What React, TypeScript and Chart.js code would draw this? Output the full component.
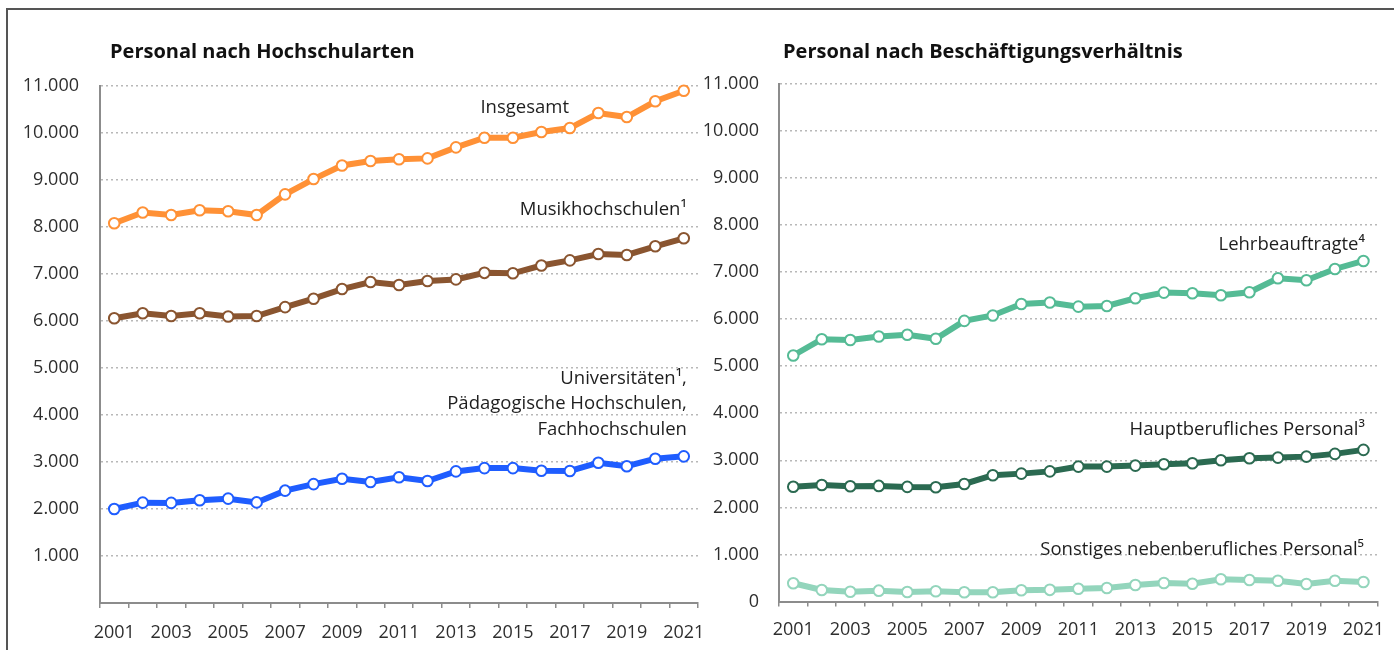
import React, { useEffect, useRef } from 'react';
import { Chart, registerables } from 'chart.js';

Chart.register(...registerables);

// ---------- data ----------
const years = [
  '2001', '2002', '2003', '2004', '2005', '2006', '2007', '2008', '2009', '2010', '2011',
  '2012', '2013', '2014', '2015', '2016', '2017', '2018', '2019', '2020', '2021',
];

const insgesamt = [8080, 8310, 8255, 8355, 8335, 8255, 8695, 9020, 9310, 9405, 9440, 9460, 9695, 9900, 9900, 10020, 10105, 10425, 10340, 10675, 10900];
const musikhochschulen = [6060, 6165, 6105, 6165, 6095, 6105, 6295, 6475, 6680, 6830, 6765, 6850, 6885, 7025, 7015, 7180, 7290, 7425, 7405, 7590, 7760];
const universitaeten = [2000, 2135, 2130, 2185, 2220, 2140, 2390, 2530, 2645, 2575, 2675, 2595, 2800, 2870, 2870, 2815, 2810, 2985, 2910, 3070, 3120];

const lehrbeauftragte = [5225, 5570, 5555, 5630, 5665, 5580, 5960, 6075, 6320, 6350, 6262, 6276, 6440, 6560, 6546, 6503, 6567, 6864, 6822, 7062, 7232];
const hauptberuflich = [2440, 2477, 2450, 2456, 2435, 2428, 2498, 2683, 2717, 2765, 2866, 2866, 2887, 2916, 2937, 3001, 3044, 3057, 3078, 3136, 3221];
const sonstiges = [389, 246, 210, 232, 204, 219, 198, 198, 240, 250, 274, 289, 353, 395, 380, 474, 459, 444, 374, 444, 416];

const yMin = 0;
const yMax = 11000;
const yStep = 1000;

const leftTitle = 'Personal nach Hochschularten';
const rightTitle = 'Personal nach Beschäftigungsverhältnis';

// label anchors in data space (category index, value)
const leftNotes = [
  { lines: ['Insgesamt'], xIndex: 15.97, yValue: 10532 },
  { lines: ['Musikhochschulen\u00B9'], xIndex: 20.11, yValue: 8362 },
  { lines: ['Universitäten\u00B9,', 'Pädagogische Hochschulen,', 'Fachhochschulen'], xIndex: 20.11, yValue: 4781 },
];
const rightNotes = [
  { lines: ['Lehrbeauftragte\u2074'], xIndex: 20.05, yValue: 7571 },
  { lines: ['Hauptberufliches Personal\u00B3'], xIndex: 20.05, yValue: 3643 },
  { lines: ['Sonstiges nebenberufliches Personal\u2075'], xIndex: 20.02, yValue: 1096 },
];

// ---------- styles ----------
const FONT = '"Open Sans", "DejaVu Sans", sans-serif';
const AXIS_COLOR = '#8c8c8c';
const GRID_COLOR = '#b8b8b8';
const TICK_COLOR = '#2e2e2e';

function fmt(v: number): string {
  return Math.round(v).toString().replace(/\B(?=(\d{3})+(?!\d))/g, '.');
}

type Note = { lines: string[]; xIndex: number; yValue: number };

function makeNotesPlugin(title: string, titleDx: number, titleY: number, notes: Note[]) {
  return {
    id: 'notes',
    afterDatasetsDraw(chart: any) {
      const { ctx, chartArea, scales } = chart;
      ctx.save();
      ctx.fillStyle = '#111111';
      ctx.font = `bold 20px ${FONT}`;
      ctx.textAlign = 'left';
      ctx.textBaseline = 'alphabetic';
      ctx.fillText(title, chartArea.left + titleDx, titleY);

      ctx.font = `18.5px ${FONT}`;
      ctx.fillStyle = '#1e1e1e';
      ctx.textAlign = 'right';
      ctx.textBaseline = 'middle';
      for (const n of notes) {
        const x = scales.x.getPixelForValue(n.xIndex);
        const y = scales.y.getPixelForValue(n.yValue);
        n.lines.forEach((t, i) => ctx.fillText(t, x, y + i * 25.8));
      }
      ctx.restore();
    },
  };
}

function lineDataset(data: number[], color: string) {
  return {
    data,
    borderColor: color,
    backgroundColor: '#ffffff',
    borderWidth: 6,
    tension: 0,
    pointRadius: 5.3,
    pointBorderWidth: 2,
    pointBackgroundColor: '#ffffff',
    pointBorderColor: color,
    clip: false as const,
  };
}

function buildOptions(p: {
  padTop: number; padRight: number; yWidth: number; xHeight: number;
  yPad: number; xPad: number; showZero: boolean;
}) {
  return {
    responsive: false,
    animation: false as const,
    events: [],
    layout: { padding: { left: 0, top: p.padTop, right: p.padRight, bottom: 0 } },
    plugins: { legend: { display: false }, tooltip: { enabled: false }, title: { display: false } },
    scales: {
      x: {
        type: 'category' as const,
        offset: true,
        grid: {
          display: true,
          drawOnChartArea: false,
          drawTicks: true,
          tickLength: 5,
          offset: true,
          color: AXIS_COLOR,
          lineWidth: 1.5,
        },
        border: { display: true, color: AXIS_COLOR, width: 2 },
        ticks: {
          autoSkip: false,
          maxRotation: 0,
          padding: p.xPad,
          color: TICK_COLOR,
          font: { family: FONT, size: 18 },
          callback: (_v: any, i: number) => (i % 2 === 0 ? years[i] : ''),
        },
        afterFit: (s: any) => { s.height = p.xHeight; },
      },
      y: {
        min: yMin,
        max: yMax,
        grid: {
          drawTicks: false,
          lineWidth: 1.5,
          color: (c: any) => (c.tick && c.tick.value === 0 ? 'rgba(0,0,0,0)' : GRID_COLOR),
        },
        border: { display: true, color: AXIS_COLOR, width: 2, dash: [2, 3] },
        ticks: {
          stepSize: yStep,
          padding: p.yPad,
          color: TICK_COLOR,
          font: { family: FONT, size: 18 },
          callback: (v: any) => (v === 0 && !p.showZero ? '' : fmt(Number(v))),
        },
        afterFit: (s: any) => { s.width = p.yWidth; },
      },
    },
  };
}

export default function App() {
  const leftRef = useRef<HTMLCanvasElement | null>(null);
  const rightRef = useRef<HTMLCanvasElement | null>(null);

  useEffect(() => {
    const charts: Chart[] = [];
    if (leftRef.current) {
      charts.push(new Chart(leftRef.current, {
        type: 'line',
        data: {
          labels: years,
          datasets: [
            lineDataset(insgesamt, '#ff9136'),
            lineDataset(musikhochschulen, '#8a5530'),
            lineDataset(universitaeten, '#1f5dff'),
          ],
        },
        options: buildOptions({ padTop: 86, padRight: 32, yWidth: 100, xHeight: 47, yPad: 21, xPad: 14, showZero: false }) as any,
        plugins: [makeNotesPlugin(leftTitle, 10, 57.5, leftNotes)],
      }));
    }
    if (rightRef.current) {
      charts.push(new Chart(rightRef.current, {
        type: 'line',
        data: {
          labels: years,
          datasets: [
            lineDataset(lehrbeauftragte, '#55bb95'),
            lineDataset(hauptberuflich, '#2b6a51'),
            lineDataset(sonstiges, '#93d5bc'),
          ],
        },
        options: buildOptions({ padTop: 83.5, padRight: 36.3, yWidth: 89, xHeight: 48.4, yPad: 20, xPad: 12, showZero: true }) as any,
        plugins: [makeNotesPlugin(rightTitle, 4, 58, rightNotes)],
      }));
    }
    return () => { charts.forEach((c) => c.destroy()); };
  }, []);

  return (
    <div style={{ position: 'fixed', left: 0, top: 0, width: 1394, height: 650, overflow: 'hidden', background: '#ffffff' }}>
      <div style={{ position: 'absolute', left: 6, top: 8, width: 3000, height: 3000, borderTop: '2px solid #555555', borderLeft: '2px solid #555555' }} />
      <canvas ref={leftRef} width={730} height={650} style={{ position: 'absolute', left: 0, top: 0, width: 730, height: 650 }} />
      <canvas ref={rightRef} width={724} height={650} style={{ position: 'absolute', left: 690, top: 0, width: 724, height: 650 }} />
    </div>
  );
}
